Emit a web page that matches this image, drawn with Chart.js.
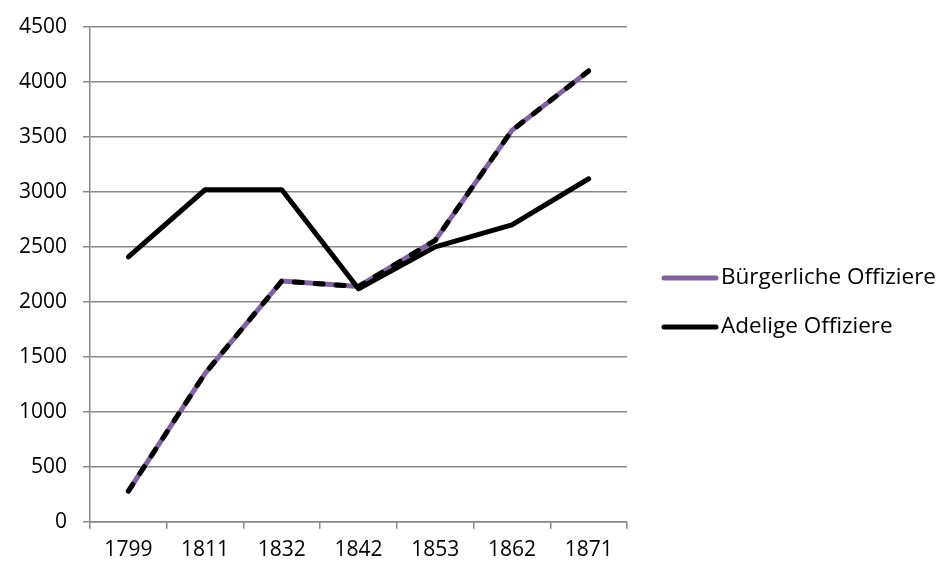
<!DOCTYPE html>
<html>
<head>
<meta charset="utf-8">
<script src="https://cdn.jsdelivr.net/npm/chart.js@4"></script>
<style>
  html, body { margin: 0; padding: 0; background: #fff; }
  #wrap { width: 946px; height: 575px; }
</style>
</head>
<body>
<div id="wrap"><canvas id="chart"></canvas></div>
<script>
const years = ["1799", "1811", "1832", "1842", "1853", "1862", "1871"];
const buerger = [280, 1350, 2190, 2140, 2560, 3560, 4100];
const adel = [2410, 3020, 3020, 2120, 2500, 2700, 3120];
const yTicks = [0, 500, 1000, 1500, 2000, 2500, 3000, 3500, 4000, 4500];

const grey = "#888888";
const purple = "#8064A2";
const font = { family: "Open Sans", size: 21 };

// legend drawn by hand to the right of the plot (built-in one is squeezed to half width)
const sideLegend = {
  id: "sideLegend",
  afterDraw(chart) {
    const { ctx, chartArea } = chart;
    const x0 = chartArea.right + 35;
    let y = chartArea.top + 251;
    ctx.save();
    ctx.font = '22.5px "Open Sans"';
    ctx.textBaseline = "middle";
    chart.data.datasets.forEach(ds => {
      if (ds.label === "dash") return;
      ctx.strokeStyle = ds.borderColor;
      ctx.lineWidth = 5;
      ctx.lineCap = "round";
      ctx.beginPath();
      ctx.moveTo(x0 + 2, y);
      ctx.lineTo(x0 + 54, y);
      ctx.stroke();
      ctx.fillStyle = "#000";
      ctx.fillText(ds.label, x0 + 59, y);
      y += 49;
    });
    ctx.restore();
  }
};

function draw() {
  new Chart(document.getElementById("chart"), {
    type: "line",
    data: {
      labels: years,
      datasets: [
        {
          label: "Bürgerliche Offiziere",
          data: buerger,
          borderColor: purple,
          backgroundColor: purple,
          borderWidth: 5,
          pointRadius: 0,
          borderCapStyle: "round",
          borderJoinStyle: "round",
          order: 2
        },
        {
          label: "Adelige Offiziere",
          data: adel,
          borderColor: "#000",
          backgroundColor: "#000",
          borderWidth: 5,
          pointRadius: 0,
          borderCapStyle: "round",
          borderJoinStyle: "round",
          order: 0
        },
        {
          label: "dash",
          data: buerger,
          borderColor: "#000",
          borderWidth: 5,
          borderDash: [8, 13],
          pointRadius: 0,
          borderCapStyle: "round",
          borderJoinStyle: "round",
          order: 1
        }
      ]
    },
    options: {
      responsive: true,
      maintainAspectRatio: false,
      animation: false,
      layout: { padding: { top: 2, left: 3, right: 319, bottom: 3 } },
      plugins: {
        tooltip: { enabled: false },
        legend: { display: false }
      },
      scales: {
        x: {
          offset: true,
          grid: {
            offset: true,
            drawOnChartArea: false,
            drawTicks: true,
            tickLength: 7,
            color: grey,
            lineWidth: 1.5
          },
          border: { color: grey, width: 1.5 },
          ticks: { color: "#000", font: font, padding: 9, maxRotation: 0 }
        },
        y: {
          min: 0,
          max: 4500,
          afterBuildTicks: axis => { axis.ticks = yTicks.map(v => ({ value: v })); },
          grid: { color: grey, lineWidth: 1.5, tickLength: 7 },
          border: { color: grey, width: 1.5 },
          ticks: {
            color: "#000",
            font: { family: "Open Sans", size: 21, lineHeight: 1.05 },
            padding: 16,
            callback: v => String(v)
          }
        }
      }
    },
    plugins: [sideLegend]
  });
}

document.fonts.load('21px "Open Sans"').then(draw, draw);
</script>
</body>
</html>
